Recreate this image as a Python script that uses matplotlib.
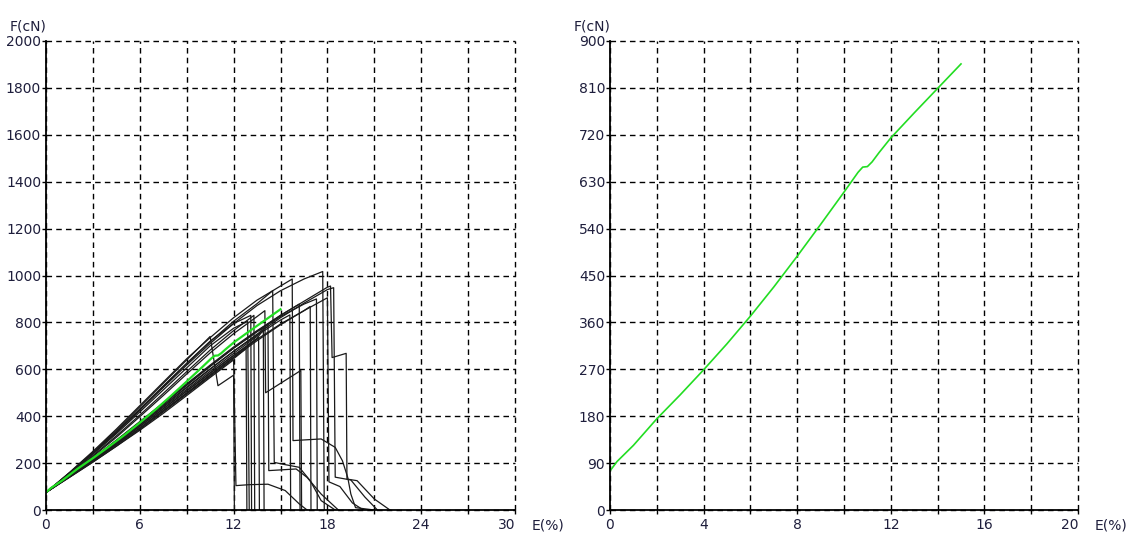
import matplotlib
matplotlib.use("Agg")
import matplotlib.pyplot as plt

# mean curve (green), strain % / force cN
mean_strain = [0, 0.3, 1, 2, 3, 4, 5, 6, 7, 8, 9, 10, 10.6, 10.8, 11.0, 11.2, 11.5,
               12, 13, 14, 15]
mean_force = [75, 93, 124, 175, 221, 269, 319, 372, 428, 487, 548, 610, 648, 658, 659,
              668, 686, 714, 762, 809, 856]

# individual specimens (black)
G = [0, 1.5, 3, 4.5, 6, 7.5, 9, 10.5, 12]
curve_strain = [
    G[:8] + [11.0, 12.0, 12.05],
    G + [12.15, 13.0, 14.2, 15.3, 16.2, 16.7],
    G + [12.9, 13.0],
    G + [13.3, 13.35],
    G + [13.6, 13.65],
    G + [13.5, 14.0, 14.05, 16.3, 16.35],
    G + [13.5, 14.5, 14.6, 15.1, 16.2, 16.9, 17.6, 18.5],
    G + [13.5, 13.9, 13.95],
    G + [13.5, 14.2, 14.25, 16.0, 16.7, 17.6, 18.7],
    G + [13.5, 15.0, 15.75, 15.8, 17.6, 18.5, 18.96, 19.3, 19.5, 19.8, 21.0],
    G + [13.5, 15.0, 15.6, 15.65],
    G + [13.5, 15.0, 16.2, 16.25],
    G + [13.5, 15.0, 16.5, 16.9, 16.95],
    G + [13.5, 15.0, 16.5, 17.7, 17.8],
    G + [13.5, 15.0, 16.5, 18.0, 18.2, 18.3, 19.2, 19.25, 19.9, 21.0, 22.0],
    G + [13.5, 15.0, 16.5, 18.0, 18.4, 18.5, 19.5, 20.4, 21.2],
    G + [13.5, 15.0, 16.5, 17.3, 17.35],
    G + [13.5, 15.0, 16.5, 18.0, 18.1, 18.8, 19.6, 20.3],
    G + [12.8, 12.85],
    G[:8] + [12.0, 13.1, 13.15],
]
curve_force = [
    [75, 158, 246, 340, 440, 540, 640, 740, 530, 575, 0],
    [75, 140, 205, 272, 340, 412, 488, 565, 640, 104, 108, 110, 83, 26, 0],
    [75, 155, 238, 325, 418, 512, 606, 700, 775, 805, 0],
    [75, 152, 232, 316, 405, 497, 590, 682, 765, 830, 0],
    [75, 142, 210, 280, 350, 425, 500, 577, 652, 735, 0],
    [75, 150, 228, 310, 398, 488, 580, 670, 752, 825, 850, 500, 595, 0],
    [75, 158, 244, 334, 430, 528, 624, 718, 805, 880, 935, 203, 196, 182, 125, 40, 0],
    [75, 145, 216, 288, 362, 438, 514, 592, 668, 740, 780, 0],
    [75, 144, 213, 284, 357, 432, 508, 585, 660, 732, 795, 168, 175, 139, 68, 0],
    [75, 160, 250, 345, 445, 545, 645, 735, 820, 895, 955, 985, 296, 303, 267, 210, 139, 68, 10, 0],
    [75, 146, 218, 292, 368, 446, 524, 602, 677, 745, 810, 832, 0],
    [75, 148, 222, 298, 377, 457, 538, 618, 695, 765, 830, 878, 0],
    [75, 143, 212, 283, 356, 431, 507, 583, 658, 728, 793, 850, 868, 0],
    [75, 156, 240, 330, 425, 522, 618, 710, 795, 872, 935, 985, 1017, 0],
    [75, 146, 218, 293, 371, 451, 531, 612, 690, 762, 830, 890, 950, 955, 650, 668, 132, 125, 47, 0],
    [75, 145, 215, 288, 364, 442, 521, 600, 677, 750, 820, 882, 940, 948, 140, 128, 55, 0],
    [75, 147, 220, 296, 374, 454, 534, 614, 690, 760, 825, 878, 900, 0],
    [75, 141, 208, 277, 348, 422, 497, 574, 650, 722, 790, 850, 905, 120, 100, 30, 0],
    [75, 139, 204, 272, 344, 418, 494, 570, 645, 688, 0],
    [75, 157, 242, 333, 430, 528, 626, 720, 795, 830, 0],
]

left_xticks = [0, 3, 6, 9, 12, 15, 18, 21, 24, 27, 30]
left_yticks = [0, 200, 400, 600, 800, 1000, 1200, 1400, 1600, 1800, 2000]
right_xticks = [0, 2, 4, 6, 8, 10, 12, 14, 16, 18, 20]
right_yticks = [0, 90, 180, 270, 360, 450, 540, 630, 720, 810, 900]

green = "#22dd22"
text_col = "#1e1e3c"

fig = plt.figure(figsize=(11.3, 5.33), dpi=100)
ax1 = fig.add_axes([46 / 1130, 23 / 533, 469 / 1130, 469 / 533])
ax2 = fig.add_axes([610 / 1130, 23 / 533, 468 / 1130, 469 / 533])


def style(ax, xt, yt, xlabel_every):
    ax.set_xlim(xt[0], xt[-1])
    ax.set_ylim(yt[0], yt[-1])
    ax.set_xticks(xt)
    ax.set_xticklabels([str(v) if i % xlabel_every == 0 else "" for i, v in enumerate(xt)])
    ax.get_xticklabels()[-1].set_horizontalalignment("right")
    ax.set_yticks(yt)
    ax.set_yticklabels([str(v) for v in yt])
    ax.grid(True, color="black", linestyle=(0, (4, 3)), linewidth=1)
    ax.set_axisbelow(True)
    for gl in ax.get_xgridlines() + ax.get_ygridlines():
        gl.set_clip_on(False)
    for s in ["top", "right"]:
        ax.spines[s].set_visible(False)
    for s in ["left", "bottom"]:
        ax.spines[s].set_linewidth(1.3)
    ax.tick_params(direction="out", length=3, width=1, labelsize=10,
                   labelcolor=text_col)
    ax.tick_params(axis="y", pad=0.5)
    ax.tick_params(axis="x", pad=2.5)
    ax.text(-0.077, 1.022, "F(cN)", transform=ax.transAxes, fontsize=10,
            color=text_col, ha="left", va="baseline")
    ax.text(1.036, -0.033, "E(%)", transform=ax.transAxes, fontsize=10,
            color=text_col, ha="left", va="center")


for e, f in zip(curve_strain, curve_force):
    ax1.plot(e, f, color="#1a1a1a", linewidth=0.9)
ax1.plot(mean_strain, mean_force, color=green, linewidth=1.6)
style(ax1, left_xticks, left_yticks, 2)

ax2.plot(mean_strain, mean_force, color=green, linewidth=1.2)
style(ax2, right_xticks, right_yticks, 2)

fig.savefig("out.png", dpi=100)
